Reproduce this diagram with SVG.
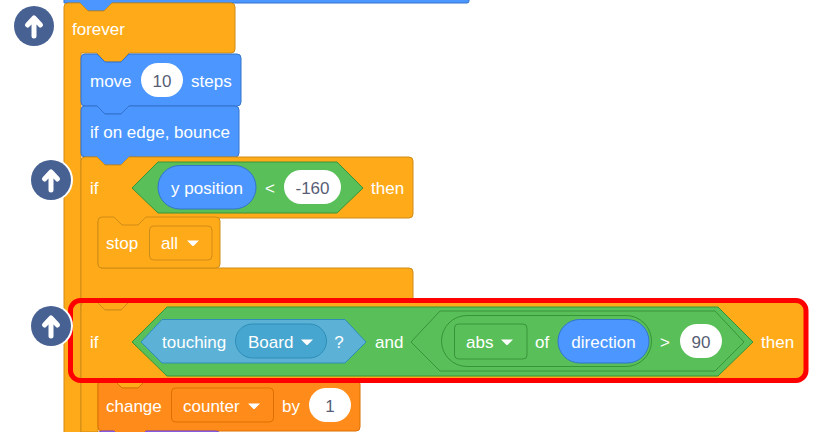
<svg xmlns="http://www.w3.org/2000/svg" width="821" height="432" viewBox="0 0 821 432">
<style>
text{font-family:"Liberation Sans",Arial,sans-serif;font-size:17px;fill:#fff}
.c{text-anchor:middle}
.v{fill:#575E75}
.ctl{fill:#FFAB19;stroke:#CF8B17}
.mot{fill:#4C97FF;stroke:#3373CC}
.op{fill:#59C059;stroke:#389438}
.sen{fill:#5CB1D6;stroke:#2E8EB8}
.var{fill:#FF8C1A;stroke:#DB6E00}
.lk{fill:#9966FF;stroke:#774DCB}
.in{fill:#fff;stroke:none}
.tri{fill:#fff}
.ic{fill:#476192}
.ar{fill:none;stroke:#fff;stroke-width:5;stroke-linecap:round;stroke-linejoin:round}
</style>
<defs>
<path id="dd" class="tri" d="M-6 -2.500H6L1 2.500Q0 3.500 -1 2.500Z"/>
<g id="up"><circle class="ic" r="20"/><path class="ar" d="M0 10V-8M-6.500 -1L0 -8L6.500 -1"/></g>
</defs>
<g id="top-block"><path class="mot" d="M64 -2H469V1Q469 3 467 3H112L104 11H88L80 3H64Z"/></g>
<g id="forever"><path class="ctl" d="M64 7Q64 3 68 3H80L88 11H104L112 3H231Q235 3 235 7V49Q235 53 231 53H129L121 62H105L97 53H81V440H64Z"/><text x="72" y="35">forever</text></g>
<g id="move"><path class="mot" d="M81 58Q81 54 85 54H97L105 62H121L129 54H237Q241 54 241 58V102Q241 106 237 106H129L121 114H105L97 106H85Q81 106 81 102Z"/><text x="90" y="87">move</text><rect class="in" x="141" y="63" width="42" height="34" rx="17"/><text class="c v" x="162" y="87">10</text><text x="191" y="87">steps</text></g>
<g id="bounce"><path class="mot" d="M81 110Q81 106 85 106H97L105 114H121L129 106H235Q239 106 239 110V153Q239 157 235 157H129L121 165H105L97 157H85Q81 157 81 153Z"/><text x="90" y="138">if on edge, bounce</text></g>
<g id="if-1"><path class="ctl" d="M81 161Q81 157 85 157H97L105 165H121L129 157H409Q413 157 413 161V214Q413 218 409 218H146L138 226H122L114 218H102Q98 218 98 222V264Q98 268 102 268H409Q413 268 413 272V310H81Z"/><text x="90" y="194">if</text>
<path class="op" d="M132 188L158 162H337L363 188L337 213H158Z"/><rect class="mot" x="158" y="165.500" width="98" height="43.500" rx="21.700"/><text class="c" x="207" y="194">y position</text><text class="c" x="270" y="194">&lt;</text><rect class="in" x="284" y="170" width="57" height="34" rx="17"/><text class="c v" x="312.500" y="194">-160</text><text x="371" y="194">then</text></g>
<g id="stop"><path class="ctl" d="M98 221Q98 217 102 217H114L122 225H138L146 217H216Q220 217 220 221V264Q220 268 216 268H102Q98 268 98 264Z"/><text x="106" y="249">stop</text><rect class="ctl" x="149.500" y="226" width="62.500" height="34" rx="4"/><text x="161" y="249">all</text><use href="#dd" x="193" y="243"/></g>
<g id="if-2"><path class="ctl" d="M81 306Q81 302 85 302H97L105 310H121L129 302H801Q805 302 805 306V376Q805 380 801 380H146L138 388H122L114 380H98V432H81Z"/><text x="90" y="348">if</text>
<path class="op" d="M132 342L167 307H718L753 342L718 376H167Z"/>
<path class="sen" d="M141 342L162 319.500H345L366 342L345 363H162Z"/><text x="162" y="348">touching</text><rect class="sen" style="fill:#47A6CF" x="235.500" y="324" width="91" height="34" rx="17"/><text x="248" y="348">Board</text><use href="#dd" x="307" y="342"/><text class="c" x="339" y="348">?</text><text x="375" y="348">and</text>
<path class="op" d="M411 342L440 311H715L744 342L715 371H440Z"/><rect class="op" x="441.500" y="315.500" width="210" height="51" rx="25.500"/><rect class="op" x="454.500" y="324" width="72.500" height="35" rx="4"/><text x="466" y="348">abs</text><use href="#dd" x="507" y="342"/><text x="535" y="348">of</text><rect class="mot" x="558" y="319.500" width="91" height="43.500" rx="21.700"/><text class="c" x="603.500" y="348">direction</text><text class="c" x="665" y="348">&gt;</text><rect class="in" x="680" y="324" width="42" height="34" rx="17"/><text class="c v" x="701" y="348">90</text><text x="761" y="348">then</text></g>
<g id="change"><path class="var" d="M98 384Q98 380 102 380H114L122 388H138L146 380H356Q360 380 360 384V427Q360 431 356 431H146L138 439H122L114 431H102Q98 431 98 427Z"/><text x="106" y="412">change</text><rect class="var" x="171.500" y="388" width="102" height="34" rx="4"/><text x="183" y="412">counter</text><use href="#dd" x="254" y="406"/><text x="282" y="412">by</text><rect class="in" x="309" y="388" width="42" height="34" rx="17"/><text class="c v" x="330" y="412">1</text></g>
<g id="looks"><path class="lk" d="M98 435Q98 431 102 431H114L122 439H138L146 431H216Q220 431 220 435V445H98Z"/></g>
<g id="highlight"><rect x="70.500" y="300.500" width="735.500" height="80" rx="10" fill="none" stroke="#FF0000" stroke-width="5"/></g>
<g id="icon-1"><use href="#up" x="34" y="26"/></g>
<g id="icon-2"><circle cx="51" cy="180" r="22" fill="#fff"/><use href="#up" x="51" y="180"/></g>
<g id="icon-3"><circle cx="51" cy="326" r="22" fill="#fff"/><use href="#up" x="51" y="326"/></g>
</svg>
